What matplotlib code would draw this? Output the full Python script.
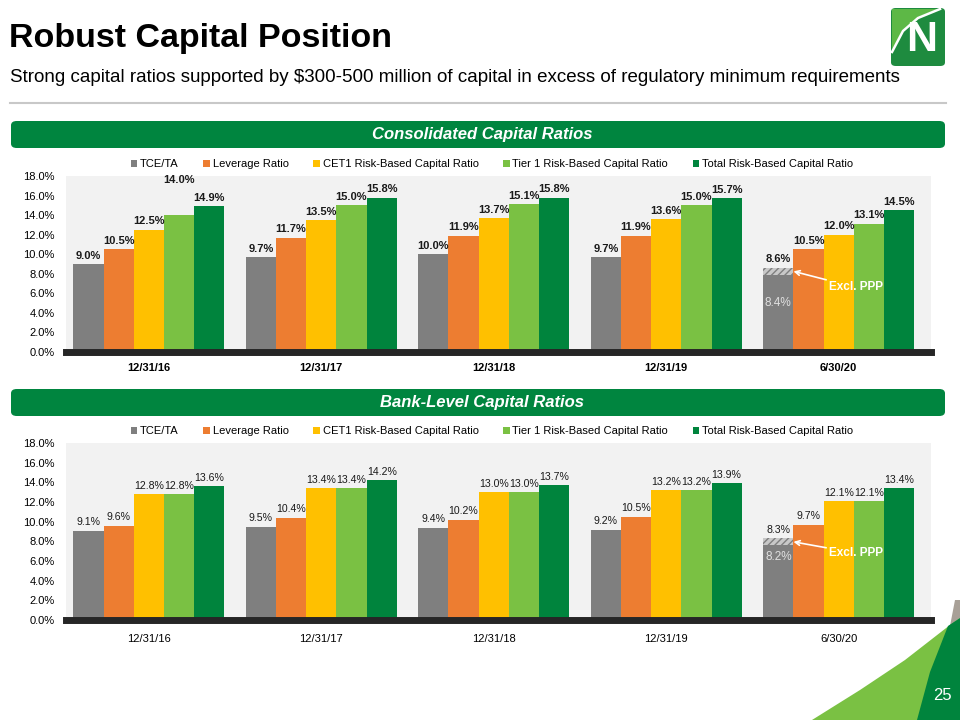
import numpy as np
import matplotlib
matplotlib.use("Agg")
import matplotlib.pyplot as plt
from matplotlib.patches import FancyBboxPatch, Polygon
from matplotlib.lines import Line2D

plt.rcParams['font.family'] = ['Liberation Sans', 'DejaVu Sans']

# ---- data ----
periods = ["12/31/16", "12/31/17", "12/31/18", "12/31/19", "6/30/20"]
series = ["TCE/TA", "Leverage Ratio", "CET1 Risk-Based Capital Ratio",
          "Tier 1 Risk-Based Capital Ratio", "Total Risk-Based Capital Ratio"]

cons_tce = [9.0, 9.7, 10.0, 9.7, 8.6]
cons_lev = [10.5, 11.7, 11.9, 11.9, 10.5]
cons_cet1 = [12.5, 13.5, 13.7, 13.6, 12.0]
cons_tier1 = [14.0, 15.0, 15.1, 15.0, 13.1]
cons_total = [14.9, 15.8, 15.8, 15.7, 14.5]
cons_tce_excl_ppp = 8.4

bank_tce = [9.1, 9.5, 9.4, 9.2, 8.3]
bank_lev = [9.6, 10.4, 10.2, 10.5, 9.7]
bank_cet1 = [12.8, 13.4, 13.0, 13.2, 12.1]
bank_tier1 = [12.8, 13.4, 13.0, 13.2, 12.1]
bank_total = [13.6, 14.2, 13.7, 13.9, 13.4]
bank_tce_excl_ppp = 8.2

colors = ["#7F7F7F", "#ED7D31", "#FFC000", "#7AC143", "#00843D"]
banner_green = "#00853F"

W, H = 960, 720


def fx(px):
    return px / W


def fy(py):
    return 1 - py / H


def poly(pts, color):
    fig.add_artist(Polygon([(fx(a), fy(b)) for a, b in pts], closed=True,
                           transform=fig.transFigure, fc=color, ec="none"))


fig = plt.figure(figsize=(9.6, 7.2), dpi=100)

# header
fig.text(fx(9), fy(38), "Robust Capital Position", fontsize=24.5, fontweight='bold',
         va='center', ha='left')
fig.text(fx(10), fy(78), "Strong capital ratios supported by $300-500 million of capital in excess of "
         "regulatory minimum requirements", fontsize=13.5, va='center', ha='left')
fig.add_artist(Line2D([fx(10), fx(946)], [fy(103), fy(103)], color="#C8C8C8", lw=1.5))

# logo
fig.add_artist(FancyBboxPatch((fx(891), fy(66)), fx(54), 58 / H,
                              boxstyle="round,pad=0,rounding_size=0.005",
                              transform=fig.transFigure, fc="#1E8B3F", ec="none"))
poly([(892, 9), (938, 9), (918, 17), (903, 30), (892, 50)], "#5DB846")
fig.add_artist(Line2D([fx(892), fx(903), fx(918), fx(940)], [fy(52), fy(31), fy(18), fy(9)],
                      color="white", lw=1.8))
fig.text(fx(922), fy(40), "N", fontsize=31, fontweight='bold', color="white",
         ha='center', va='center')

# bottom-right decoration
poly([(955, 600), (960, 600), (960, 618), (950, 626)], "#A8A097")
poly([(950, 625), (960, 618), (960, 720), (812, 720), (860, 690), (905, 660)], "#7AC143")
poly([(948, 626), (960, 618), (960, 720), (917, 720), (930, 672)], "#00843D")
fig.text(fx(942), fy(695), "25", fontsize=12, color="white", ha='center', va='center')


def banner(y_top, text):
    fig.add_artist(FancyBboxPatch((fx(11), fy(y_top + 27)), fx(934), 27 / H,
                                  boxstyle="round,pad=0,rounding_size=0.006",
                                  transform=fig.transFigure, fc=banner_green, ec="none"))
    fig.text(fx(482), fy(y_top + 14), text, fontsize=12, fontweight='bold', style='italic',
             color="white", ha='center', va='center')


def draw_chart(ax, data, excl_val, excl_label_y, ppp_text_y, bold, nudge):
    n = len(series)
    w = 0.175
    x = np.arange(len(periods))
    band = 0.7
    for k, vals in enumerate(data):
        pos = x + (k - (n - 1) / 2) * w
        if k == 0:
            solid = list(vals[:-1]) + [vals[-1] - band]
            ax.bar(pos, solid, w, color=colors[k], zorder=2, label=series[k])
            ax.bar(pos[-1], band, w, bottom=vals[-1] - band, color="#C8C8C8",
                   hatch='/////', edgecolor="#7F7F7F", lw=0, zorder=2)
        else:
            ax.bar(pos, vals, w, color=colors[k], zorder=2, label=series[k])
        for i, v in enumerate(vals):
            off = 2.5 + nudge.get((k, i), 0)
            ax.annotate(f"{v:.1f}%", (pos[i], v), xytext=(0, off), textcoords='offset points',
                        ha='center', va='bottom', fontsize=8 if bold else 7.6,
                        fontweight='bold' if bold else 'normal', color="#1A1A1A")
    gx = x[-1] - 2 * w
    ax.text(gx, excl_label_y, f"{excl_val:.1f}%", ha='center', va='center', fontsize=8.5,
            color="#E0E0E0", zorder=3)
    ax.annotate("Excl. PPP", xy=(gx + w / 2, data[0][-1] - band / 2),
                xytext=(x[-1] + 0.1, ppp_text_y), textcoords='data',
                ha='center', va='center', fontsize=8.5, fontweight='bold', color="white",
                arrowprops=dict(arrowstyle='->', color="white", lw=1.2,
                                shrinkA=0, shrinkB=0), zorder=4)
    ax.set_facecolor("#F2F2F2")
    ax.set_xlim(-0.48, 4.535)
    ax.set_ylim(0, 18)
    ax.set_yticks(np.arange(0, 18.1, 2))
    ax.set_yticklabels([f"{t:.1f}%" for t in np.arange(0, 18.1, 2)])
    ax.set_xticks(x)
    ax.set_xticklabels(periods, fontweight='bold' if bold else 'normal')
    ax.tick_params(length=0, labelsize=8)
    ax.tick_params(axis='y', pad=8)
    ax.tick_params(axis='x', pad=8 if bold else 10)
    for s in ax.spines.values():
        s.set_visible(False)
    ax.axhline(0, color="#262626", lw=5, zorder=3, clip_on=False)
    ax.legend(loc='center', bbox_to_anchor=(0.4925, 1.068), ncol=5, frameon=False,
              fontsize=8, handlelength=0.6, handleheight=0.6, handletextpad=0.25,
              columnspacing=2.2, borderaxespad=0)


banner(121, "Consolidated Capital Ratios")
ax1 = fig.add_axes([fx(66), fy(352), fx(931 - 66), 176 / H])
draw_chart(ax1, [cons_tce, cons_lev, cons_cet1, cons_tier1, cons_total],
           cons_tce_excl_ppp, 5.0, 6.6, True, {(3, 0): 19})

banner(389, "Bank-Level Capital Ratios")
ax2 = fig.add_axes([fx(66), fy(620), fx(931 - 66), 177 / H])
draw_chart(ax2, [bank_tce, bank_lev, bank_cet1, bank_tier1, bank_total],
           bank_tce_excl_ppp, 6.4, 6.8, False, {})

fig.savefig("out.png", dpi=100)
